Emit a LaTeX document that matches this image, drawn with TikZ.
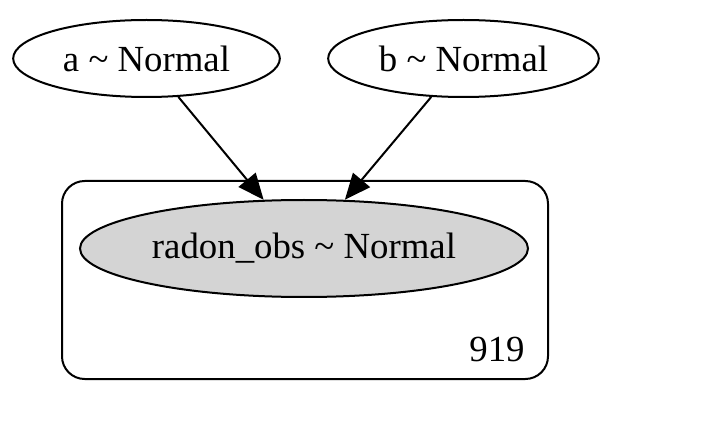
\documentclass[tikz,border=0pt]{standalone}
\usepackage{fontspec}
\setmainfont{Liberation Serif}
\usetikzlibrary{shapes.geometric,arrows.meta}

\begin{document}
\begin{tikzpicture}[x=0.75pt,y=-0.75pt,font=\fontsize{27.6}{33}\selectfont]
    \useasboundingbox (0,0) rectangle (722,424);
    \begin{scope}[shift={(0,0)}]
        % plate
        \node[draw, line width=1.5pt, rounded corners=17pt, minimum width=364.5pt, minimum height=148.5pt, inner sep=0pt] (plate) at (305,280) {};
        \node (n) at (497,349) {919};

        \begin{scope}[every node/.style={ellipse, draw, line width=1.5pt, inner sep=0pt}]
            \node[minimum width=200pt, minimum height=57.75pt] (a) at (146.5,58.5) {a \textasciitilde{} Normal};
            \node[minimum width=203pt, minimum height=57.75pt] (b) at (463.5,58.5) {b \textasciitilde{} Normal};
            \node[fill=black!17, minimum width=336pt, minimum height=72.75pt] (radon) at (304,248.5) {radon\_obs \textasciitilde{} Normal};
        \end{scope}

        \begin{scope}[every edge/.style={draw, line width=1.5pt, -{Triangle[length=19.5pt,width=16.5pt]}}]
            \path (a) edge (radon);
            \path (b) edge (radon);
        \end{scope}
    \end{scope}
\end{tikzpicture}
\end{document}
